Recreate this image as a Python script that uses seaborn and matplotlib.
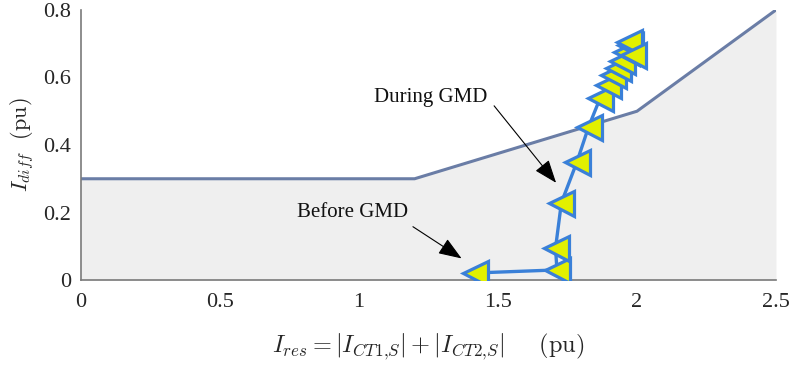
import matplotlib
matplotlib.use("Agg")
import matplotlib.pyplot as plt
import seaborn as sns
import numpy as np
import pandas as pd

# Relay characteristic (breakpoints)
char_x = [0.0, 1.2, 2.0, 2.5]
char_y = [0.3, 0.3, 0.5, 0.8]

# Operating point trajectory
traj_x = [1.419, 1.712, 1.707, 1.728, 1.784, 1.826, 1.867, 1.896, 1.914, 1.930,
          1.945, 1.960, 1.975, 1.970, 1.985]
traj_y = [0.021, 0.030, 0.095, 0.229, 0.350, 0.454, 0.538, 0.578, 0.607, 0.627,
          0.650, 0.675, 0.697, 0.705, 0.668]

x_ticks = [0, 0.5, 1, 1.5, 2, 2.5]
x_ticklabels = ["0", "0.5", "1", "1.5", "2", "2.5"]
y_ticks = [0, 0.2, 0.4, 0.6, 0.8]
y_ticklabels = ["0", "0.2", "0.4", "0.6", "0.8"]

sns.set_theme(style="white")
plt.rcParams["font.family"] = ["Liberation Serif", "DejaVu Serif"]
plt.rcParams["mathtext.fontset"] = "cm"

fig = plt.figure(figsize=(7.89, 3.68), dpi=100)
ax = fig.add_axes([0.1027, 0.239, 0.8808, 0.734])

ax.fill_between(char_x, char_y, 0, color="#efefef", zorder=1, linewidth=0)
sns.lineplot(x=char_x, y=char_y, ax=ax, color="#6a7da6", linewidth=2.2,
             sort=False, estimator=None, zorder=2)

df = pd.DataFrame({"x": traj_x, "y": traj_y})
line_ax = sns.lineplot(data=df, x="x", y="y", ax=ax, sort=False, estimator=None,
                       color="#3a80d8", linewidth=2.4, zorder=3)
trace = line_ax.lines[-1]
trace.set_marker("<")
trace.set_markersize(18)
trace.set_markerfacecolor("#e2f000")
trace.set_markeredgecolor("#3a80d8")
trace.set_markeredgewidth(2.3)

arrow = dict(arrowstyle="-|>,head_length=1.2,head_width=0.45",
             color="black", lw=0.8, shrinkA=0, shrinkB=0)
ax.text(1.259, 0.542, "During GMD", ha="center", va="center", fontsize=15,
        color="#111111")
ax.annotate("", xy=(1.709, 0.288), xytext=(1.486, 0.516), arrowprops=arrow)
ax.text(0.978, 0.199, "Before GMD", ha="center", va="center", fontsize=15,
        color="#111111")
ax.annotate("", xy=(1.369, 0.064), xytext=(1.194, 0.158), arrowprops=arrow)

ax.set_xlim(0, 2.5)
ax.set_ylim(0, 0.8)
ax.set_xticks(x_ticks)
ax.set_xticklabels(x_ticklabels)
ax.set_yticks(y_ticks)
ax.set_yticklabels(y_ticklabels)
ax.tick_params(direction="in", length=5, width=1.0, color="#7a7a7a",
               labelsize=16, labelcolor="#262626")
ax.tick_params(axis="x", pad=9)
ax.tick_params(axis="y", pad=7)
for s in ["top", "right"]:
    ax.spines[s].set_visible(False)
for s in ["left", "bottom"]:
    ax.spines[s].set_color("#7a7a7a")
    ax.spines[s].set_linewidth(1.2)

ax.set_xlabel(r"$I_{res}=|I_{CT1{,}S}|+|I_{CT2{,}S}|\quad\;\;\mathrm{(pu)}$",
              fontsize=17.5, color="#262626", labelpad=14)
ax.set_ylabel(r"$I_{diff}\ \ \mathrm{(pu)}$", fontsize=16, color="#262626",
              labelpad=5)
ax.set_facecolor("white")

fig.savefig("out.png", dpi=100)
